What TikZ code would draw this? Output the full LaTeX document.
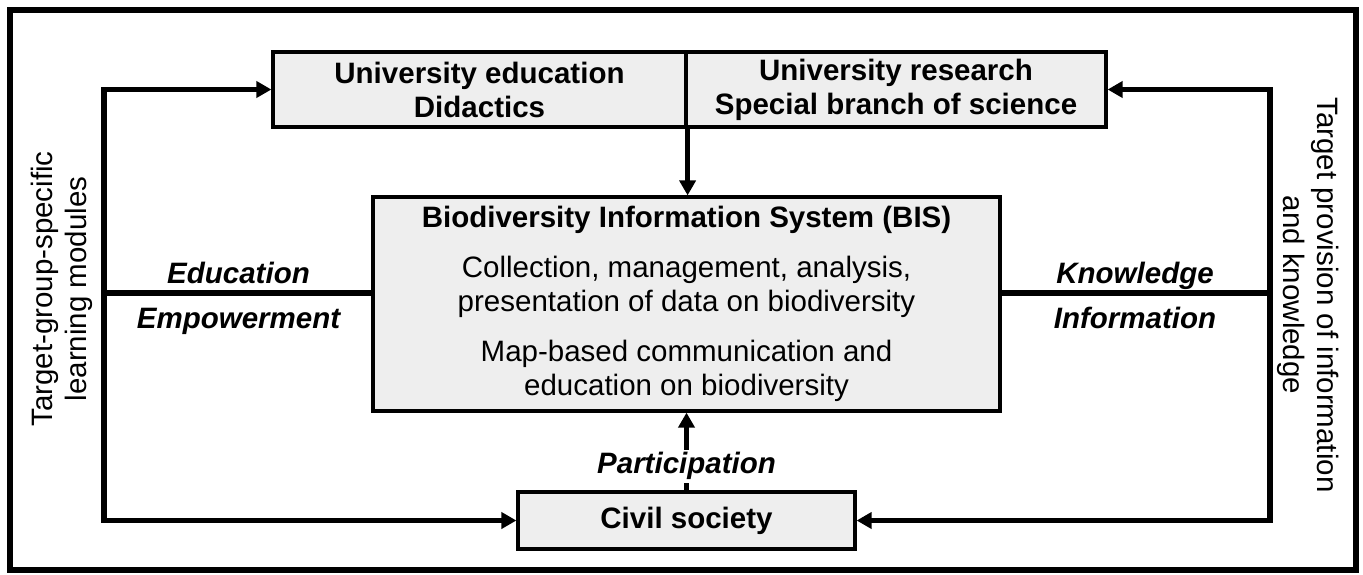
\documentclass[tikz,border=0pt]{standalone}
\usepackage{fontspec}
\setmainfont{Liberation Sans}
\usetikzlibrary{arrows.meta}
\definecolor{boxgray}{RGB}{238,238,238}
\newcommand{\diagfont}{\fontsize{14.75}{17}\selectfont}
\begin{document}
\begin{tikzpicture}[
x=0.5pt, y=-0.5pt,
box/.style={draw=black, fill=boxgray, line width=1.6pt, inner sep=0pt, align=center, font=\diagfont\bfseries},
conn/.style={line width=2.7pt},
tip/.style={-{Triangle[length=7.5pt, width=8pt]}},
both/.style={{Triangle[length=7.5pt, width=8pt]}-{Triangle[length=7.5pt, width=8pt]}},
lbl/.style={font=\diagfont\bfseries\itshape, inner sep=0pt},
side/.style={align=center, inner sep=0pt, font=\diagfont},
]
\useasboundingbox (0,0) rectangle (1363,574);
\draw[line width=3pt] (10,10) rectangle (1356,570);

% boxes
\node[box, minimum width=206.5pt, minimum height=37.5pt] (uniedu) at (479.5,89.5)
    {University education\\Didactics};
\node[box, minimum width=210pt, minimum height=37.5pt] (unires) at (896,89.5)
    {University research\\Special branch of science};
\node[box, minimum width=313.5pt, minimum height=107pt, font=\diagfont] (bis) at (686.5,304)
    {{\bfseries Biodiversity Information System (BIS)}\\[8pt]
     Collection, management, analysis,\\presentation of data on biodiversity\\[8pt]
     Map-based communication and\\education on biodiversity};
\node[box, minimum width=168.5pt, minimum height=28.5pt] (civil) at (686.5,520.5) {Civil society};

% side loops
\coordinate (lmid) at (104,293);
\coordinate (rmid) at (1270,293);
\draw[conn, both] (uniedu.west) -| (lmid) |- (civil.west);
\draw[conn, both] (unires.east) -| (rmid) |- (civil.east);
\draw[conn] (lmid) -- (lmid -| bis.west);
\draw[conn] (rmid) -- (rmid -| bis.east);

% vertical arrows
\draw[conn, tip] (uniedu.south east) -- (uniedu.south east |- bis.north);
\draw[conn, tip] (civil.north) -- node[lbl, fill=white, inner sep=1.5pt, pos=0.31] (part) {Participation} (bis.south);

% labels
\node[lbl, anchor=base] (educ) at (238.5,283) {Education};
\node[lbl, anchor=base] (empow) at (238.5,328) {Empowerment};
\node[lbl, anchor=base] (knowl) at (1135,283) {Knowledge};
\node[lbl, anchor=base] (inform) at (1135,328) {Information};

\node[side, rotate=90] (leftnote) at (62,289) {Target-group-specific\\learning modules};
\node[side, rotate=-90] (rightnote) at (1308,295) {Target provision of information\\and knowledge};
\end{tikzpicture}
\end{document}
